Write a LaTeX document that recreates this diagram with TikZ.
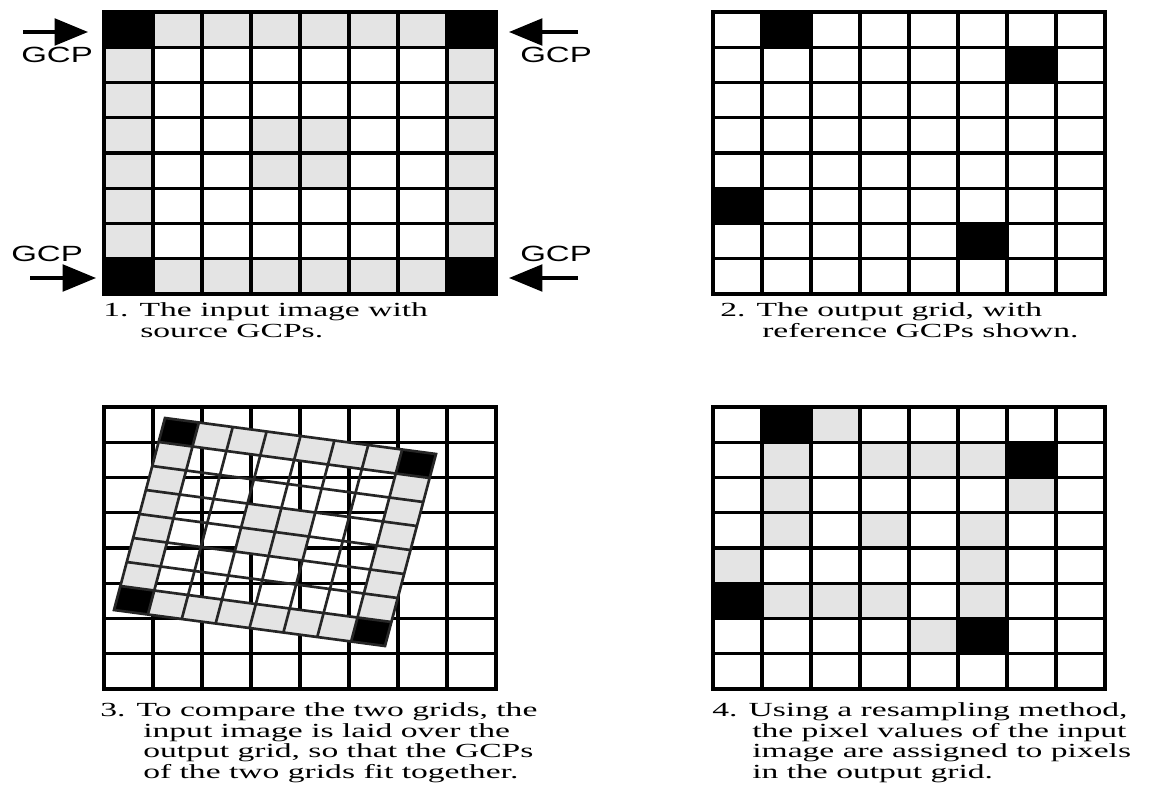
\documentclass[tikz,border=0pt]{standalone}
\usepackage{fontspec}
\setmainfont{Liberation Serif}
\newfontfamily\capfont[FakeStretch=1.68]{Liberation Serif}
\newfontfamily\gcpfont[FakeStretch=1.5]{Liberation Sans}
\usetikzlibrary{arrows.meta}
\definecolor{cellgray}{RGB}{228,228,228}
\tikzset{
  gridline/.style={line width=2.4pt, draw=black},
  overlayline/.style={line width=2pt, draw=black!85},
  blackcell/.style={fill=black},
  graycell/.style={fill=cellgray},
  captext/.style={anchor=base west, inner sep=0pt, font=\capfont\fontsize{15}{16.5}\selectfont},
  gcplabel/.style={anchor=base west, inner sep=0pt, font=\gcpfont\fontsize{16.5}{18}\selectfont},
  gcparrow/.style={line width=2.4pt, -{Triangle[length=25pt,width=20pt]}},
}
\newcommand\cellfill[3]{\fill[#1] (#2,#3) -- ++(1,0) -- ++(0,1) -- ++(-1,0) -- cycle;}
\newcommand\drawcellgrid[1]{%
  \foreach \k in {1,...,7} {\draw[#1] (\k,0) -- (\k,8); \draw[#1] (0,\k) -- (8,\k);}
  \draw[#1, line join=miter] (0,0) -- (8,0) -- (8,8) -- (0,8) -- cycle;}
\newcommand\inputpattern{%
  \foreach \k in {1,...,6} {\cellfill{graycell}{\k}{0} \cellfill{graycell}{\k}{7}
    \cellfill{graycell}{0}{\k} \cellfill{graycell}{7}{\k}}
  \cellfill{graycell}{3}{3} \cellfill{graycell}{4}{3}
  \cellfill{graycell}{3}{4} \cellfill{graycell}{4}{4}
  \cellfill{blackcell}{0}{0} \cellfill{blackcell}{7}{0}
  \cellfill{blackcell}{0}{7} \cellfill{blackcell}{7}{7}}
\newcommand\refpattern{%
  \cellfill{blackcell}{1}{0} \cellfill{blackcell}{6}{1}
  \cellfill{blackcell}{0}{5} \cellfill{blackcell}{5}{6}}
\begin{document}
\begin{tikzpicture}[x=0.75pt, y=-0.75pt]
\useasboundingbox (0,0) rectangle (1153,803);
\fill[white] (0,0) rectangle (1153,803);

% ---- Grid 1: input image
\begin{scope}[shift={(104,12)}, x={(36.75pt,0pt)}, y={(0pt,-26.4375pt)}]
  \inputpattern
  \drawcellgrid{gridline}
\end{scope}
\coordinate (tlA) at (23,32);  \coordinate (tlB) at (88,32);
\coordinate (trA) at (578,32); \coordinate (trB) at (509,32);
\coordinate (blA) at (30,278); \coordinate (blB) at (96,278);
\coordinate (brA) at (578,278); \coordinate (brB) at (509,278);
\draw[gcparrow] (tlA) -- (tlB);
\draw[gcparrow] (trA) -- (trB);
\draw[gcparrow] (blA) -- (blB);
\draw[gcparrow] (brA) -- (brB);
\node[gcplabel] (gtl) at (21,62) {GCP};
\node[gcplabel] (gtr) at (520,62) {GCP};
\node[gcplabel] (gbl) at (11,261) {GCP};
\node[gcplabel] (gbr) at (520,261) {GCP};

% ---- Grid 2: output grid
\begin{scope}[shift={(713,12)}, x={(36.75pt,0pt)}, y={(0pt,-26.4375pt)}]
  \refpattern
  \drawcellgrid{gridline}
\end{scope}

% ---- Grid 3: overlay
\begin{scope}[shift={(104,407)}, x={(36.75pt,0pt)}, y={(0pt,-26.4375pt)}]
  \drawcellgrid{gridline}
\end{scope}
\begin{scope}[shift={(165,418)}, x={(25.40625pt,-3.375pt)}, y={(-4.78125pt,-18pt)}]
  \inputpattern
  \drawcellgrid{overlayline}
\end{scope}

% ---- Grid 4: resampled
\begin{scope}[shift={(713,407)}, x={(36.75pt,0pt)}, y={(0pt,-26.4375pt)}]
  \foreach \i/\j in {2/0,1/1,3/1,4/1,5/1,1/2,6/2,1/3,3/3,5/3,0/4,5/4,1/5,2/5,3/5,5/5,4/6}
    {\cellfill{graycell}{\i}{\j}}
  \refpattern
  \drawcellgrid{gridline}
\end{scope}

% ---- Captions
\node[captext] (c1a) at (103,316) {1. The input image with};
\node[captext] (c1b) at (140,337) {source GCPs.};
\node[captext] (c2a) at (720,316) {2. The output grid, with};
\node[captext] (c2b) at (762,337) {reference GCPs shown.};
\node[captext] (c3a) at (100,716) {3. To compare the two grids, the};
\node[captext] (c3b) at (143,737) {input image is laid over the};
\node[captext] (c3c) at (143,757) {output grid, so that the GCPs};
\node[captext] (c3d) at (143,778) {of the two grids fit together.};
\node[captext] (c4a) at (712,716) {4. Using a resampling method,};
\node[captext] (c4b) at (752,737) {the pixel values of the input};
\node[captext] (c4c) at (752,757) {image are assigned to pixels};
\node[captext] (c4d) at (752,778) {in the output grid.};
\end{tikzpicture}
\end{document}
